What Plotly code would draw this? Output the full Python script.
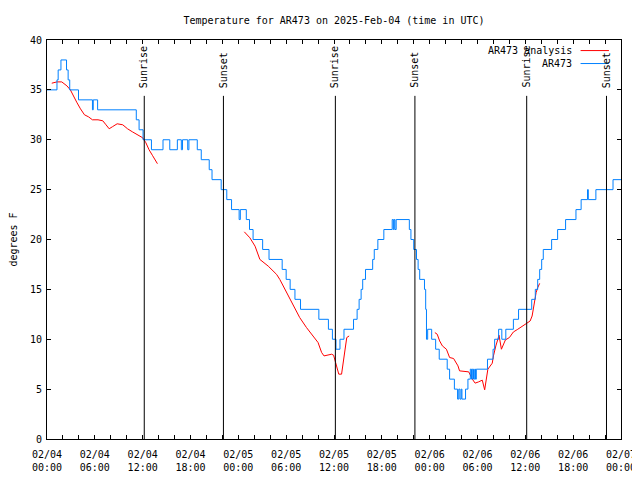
import pandas as pd
import plotly.graph_objects as go

BASE = "2025-02-04 00:00"

# Observed temperature (hours after 2025-02-04 00:00 UTC, degrees F), step changes
obs_hours = [0.0, 1.25, 1.4, 1.75, 2.45, 2.65, 2.85, 3.95, 5.7, 5.8, 6.35, 11.2, 11.55, 12.05,
             13.1, 14.55, 15.4, 16.35, 16.85, 17.0, 17.65, 17.8, 18.85, 19.35, 20.35, 20.7,
             21.85, 22.55, 23.15, 24.1, 24.25, 25.0, 25.4, 25.85, 27.05, 27.85, 29.5, 30.0,
             30.5, 31.1, 31.8, 34.1, 35.3, 35.8, 36.25, 36.75, 37.25, 38.45, 38.9, 39.15,
             39.4, 39.6, 39.95, 40.85, 41.05, 41.5, 42.25, 43.3, 43.45, 43.55, 43.65, 43.8,
             45.45, 45.65, 46.0, 46.35, 46.55, 46.75, 47.35, 47.5, 47.6, 47.75, 48.25, 48.75,
             49.2, 50.2, 50.5, 51.1, 51.5, 51.65, 51.8, 51.95, 52.05, 52.5, 52.8, 53.1, 53.25,
             53.35, 53.5, 53.65, 53.75, 53.85, 55.25, 55.95, 56.15, 56.65, 57.05, 57.55, 58.5,
             59.15, 60.8, 61.25, 61.55, 61.8, 62.05, 62.25, 63.3, 64.05, 65.05, 66.35, 67.0,
             67.8, 67.9, 68.85, 71.0, 72.0]
obs_temps = [35, 36, 37, 38, 37, 36, 35, 34, 33, 34, 33, 32, 31, 30,
             29, 30, 29, 30, 29, 30, 29, 30, 29, 28, 27, 26,
             25, 24, 23, 22, 23, 22, 21, 20, 19, 18, 17, 16,
             15, 14, 13, 12, 11, 10, 9, 10, 11, 12, 13, 14,
             15, 16, 17, 18, 19, 20, 21, 22, 21, 22, 21, 22,
             21, 20, 19, 18, 17, 16, 15, 13, 10, 11, 10, 9,
             8, 7, 6, 5, 4, 5, 4, 5, 4, 5, 6, 7, 6,
             7, 6, 7, 6, 7, 8, 9, 10, 11, 10, 11, 12,
             13, 14, 15, 16, 17, 18, 19, 20, 21, 22, 23, 24,
             25, 24, 25, 26, 26]

# Analysis (three runs, separated by None gaps)
ana_hours = [0.6, 1.25, 1.85, 2.5, 2.93, 3.35, 3.77, 4.2, 4.7, 5.2, 5.7, 6.4, 7.0, 7.4, 7.8,
             8.2, 8.8, 9.5, 10.1, 10.7, 11.35, 12.0, 12.4, 12.8, 13.25, 13.85, None,
             24.75, 25.45, 26.1, 26.7, 27.75, 28.8, 29.2, 29.85, 30.7, 31.3, 31.7, 32.55,
             33.4, 34.0, 34.45, 34.75, 35.7, 35.95, 36.2, 36.4, 36.6, 36.95, 37.15, 37.35,
             37.6, 37.9, None,
             48.65, 48.95, 49.25, 49.6, 50.1, 50.5, 51.0, 51.55, 51.75, 52.4, 52.9, 53.35,
             53.7, 54.15, 54.6, 54.9, 55.1, 55.3, 55.85, 56.0, 56.3, 56.55, 56.7, 57.0, 57.5,
             58.0, 58.5, 59.05, 59.6, 60.1, 60.6, 60.85, 61.0, 61.2, 61.35, 61.55, 61.8]
ana_temps = [35.67, 35.8, 35.8, 35.4, 35.0, 34.3, 33.7, 33.1, 32.5, 32.3, 32.0, 32.0, 31.9, 31.5, 31.1,
             31.3, 31.6, 31.5, 31.1, 30.8, 30.5, 30.2, 29.7, 29.0, 28.4, 27.6, None,
             20.77, 20.17, 19.33, 18.0, 17.33, 16.5, 16.0, 15.0, 13.83, 12.83, 12.17, 11.17,
             10.33, 9.67, 8.67, 8.33, 8.5, 8.4, 7.67, 7.0, 6.5, 6.5, 7.67, 9.17,
             10.17, 10.33, None,
             10.67, 10.5, 9.83, 9.33, 9.0, 8.17, 8.07, 7.33, 6.83, 6.77, 6.73, 6.0,
             5.6, 5.73, 5.9, 4.93, 6.0, 7.0, 7.6, 8.33, 9.33, 10.17, 10.4, 9.0, 9.93,
             10.17, 10.73, 11.0, 11.27, 11.5, 11.83, 12.33, 13.17, 14.0, 14.67, 15.17, 15.6]

# Sun events (hours after base)
sun_hours = [12.2, 22.13, 36.17, 46.15, 60.17, 70.18]
sun_labels = ["Sunrise", "Sunset", "Sunrise", "Sunset", "Sunrise", "Sunset"]

series_names = ["AR473 analysis", "AR473"]
series_colors = ["#ff0000", "#0080ff"]

base = pd.Timestamp(BASE)


def to_time(hours):
    return [None if h is None else base + pd.Timedelta(hours=h) for h in hours]


FONT = "DejaVu Sans Mono"

fig = go.Figure()
fig.add_trace(go.Scatter(x=to_time(ana_hours), y=ana_temps, mode="lines",
                         name=series_names[0], line=dict(color=series_colors[0], width=1),
                         connectgaps=False))
fig.add_trace(go.Scatter(x=to_time(obs_hours), y=obs_temps, mode="lines",
                         name=series_names[1], line=dict(color=series_colors[1], width=1, shape="hv")))

for h, lab in zip(sun_hours, sun_labels):
    t = base + pd.Timedelta(hours=h)
    fig.add_shape(type="line", xref="x", yref="y", x0=t, x1=t, y0=0, y1=34.4,
                  line=dict(color="black", width=1))
    fig.add_annotation(x=t, y=35, xref="x", yref="y", text=lab, textangle=-90,
                       showarrow=False, xanchor="center", yanchor="bottom",
                       font=dict(family=FONT, size=10, color="black"))

# gnuplot-style key (text right, sample line after it)
for i, (nm, col) in enumerate(zip(series_names, series_colors)):
    yk = 0.9735 - i * 0.0325
    fig.add_annotation(x=0.9185, y=yk, xref="paper", yref="paper", text=nm, showarrow=False,
                       xanchor="right", yanchor="middle",
                       font=dict(family=FONT, size=10, color="black"))
    fig.add_shape(type="line", xref="paper", yref="paper", x0=0.9296, x1=0.979, y0=yk, y1=yk,
                  line=dict(color=col, width=1))

fig.update_layout(
    width=632, height=472,
    margin=dict(l=38.5, r=18.5, t=31.5, b=40.5),
    paper_bgcolor="white", plot_bgcolor="white",
    showlegend=False,
    font=dict(family=FONT, size=10, color="black"),
    title=dict(text="Temperature for AR473 on 2025-Feb-04 (time in UTC)",
               x=0.5, xref="paper", xanchor="center", y=1 - 12 / 472, yanchor="middle",
               font=dict(family=FONT, size=10, color="black"), automargin=False),
)
fig.update_xaxes(
    type="date", automargin=False,
    range=[base, base + pd.Timedelta(hours=72)],
    tick0=base, dtick=6 * 3600 * 1000,
    tickformat="%m/%d<br>%H:%M",
    ticks="inside", ticklen=4, tickcolor="black",
    minor=dict(dtick=2 * 3600 * 1000, ticks="inside", ticklen=4, tickcolor="black"),
    showline=True, linecolor="black", linewidth=1, mirror="ticks",
    showgrid=False, zeroline=False, ticklabelstandoff=6,
    tickfont=dict(family=FONT, size=10, color="black"),
)
fig.update_yaxes(
    automargin=False,
    range=[0, 40], dtick=5, tick0=0,
    ticks="inside", ticklen=4, tickcolor="black",
    showline=True, linecolor="black", linewidth=1, mirror="ticks",
    showgrid=False, zeroline=False, ticklabelstandoff=2,
    tickfont=dict(family=FONT, size=10, color="black"),
    title=dict(text="degrees F", standoff=17, font=dict(family=FONT, size=10, color="black")),
)

fig.write_html("out.html")
